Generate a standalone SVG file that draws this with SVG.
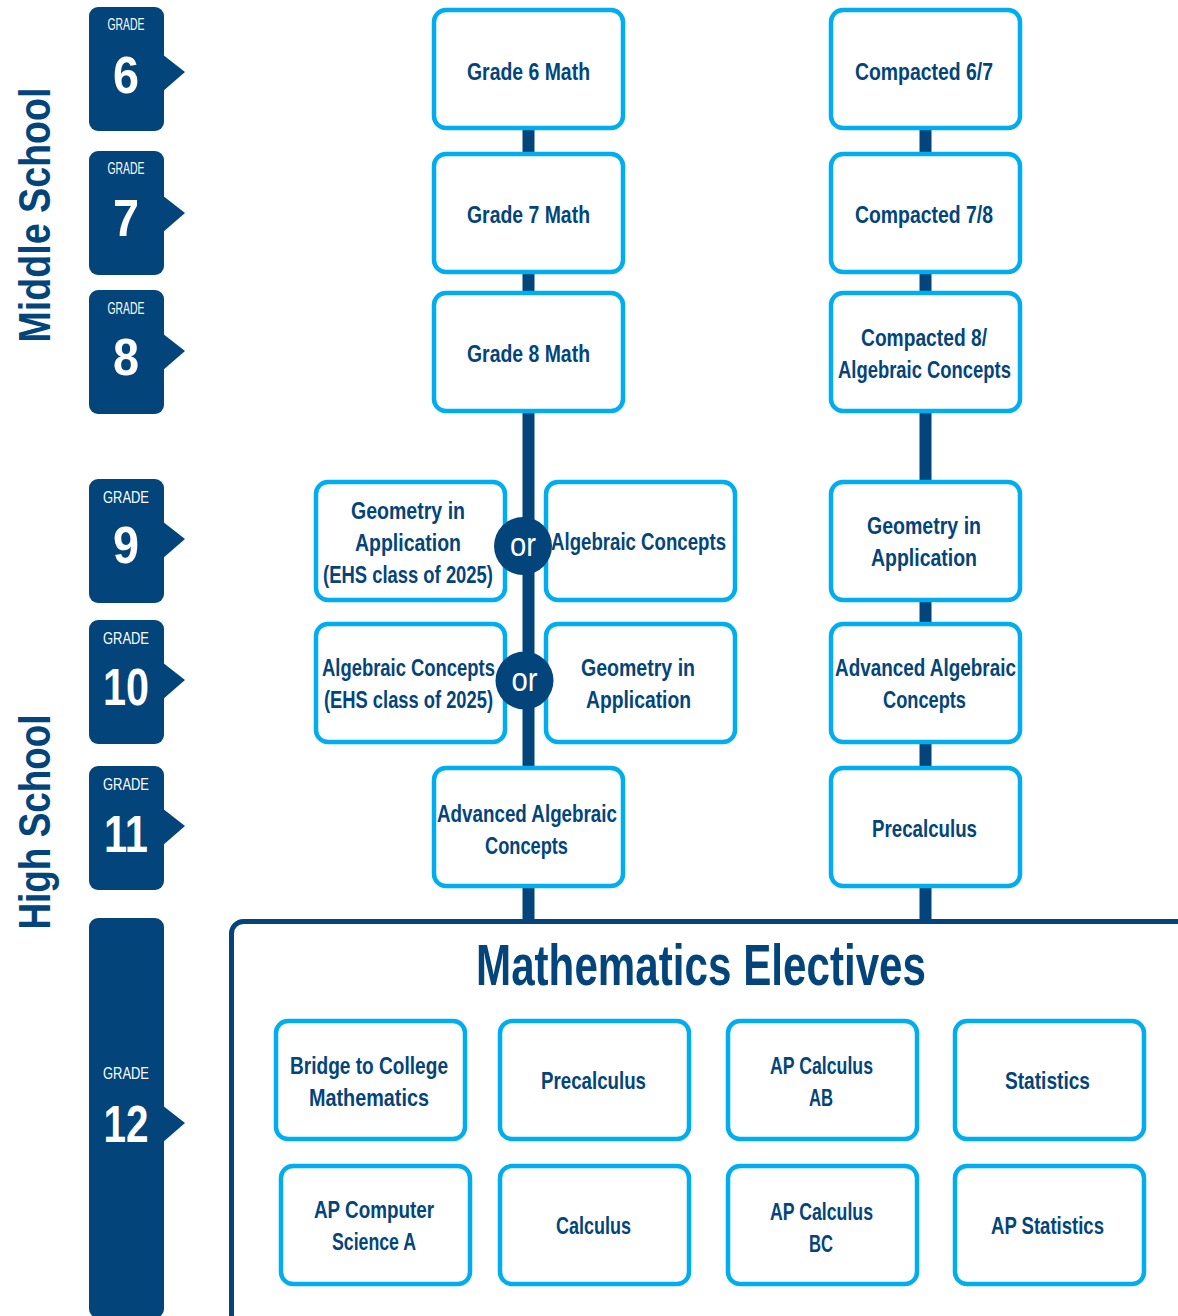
<svg xmlns="http://www.w3.org/2000/svg" width="1178" height="1316" viewBox="0 0 1178 1316">
<style>
.tab{fill:#03457b}
.gl{font-family:"Liberation Sans",Arial,sans-serif;font-size:17px;fill:#fff;text-anchor:middle}
.gn{font-family:"Liberation Sans",Arial,sans-serif;font-size:52px;font-weight:bold;fill:#fff;text-anchor:middle}
.box{fill:#fff;stroke:#00aeef;stroke-width:4.5}
.t{font-family:"Liberation Sans",Arial,sans-serif;font-size:24px;font-weight:bold;fill:#03457b;text-anchor:middle}
.side{font-family:"Liberation Sans",Arial,sans-serif;font-size:44px;font-weight:bold;fill:#03457b;text-anchor:middle}
.or{fill:#03457b}
.ort{font-family:"Liberation Sans",Arial,sans-serif;font-size:34px;fill:#fff;text-anchor:middle}
.ln{stroke:#03457b;stroke-width:12;fill:none}
</style>
<rect width="1178" height="1316" fill="#fff"/>

<g id="side-labels">
<text class="side" transform="translate(50,215) rotate(-90)" textLength="255" lengthAdjust="spacingAndGlyphs">Middle School</text>
<text class="side" transform="translate(50,822) rotate(-90)" textLength="215" lengthAdjust="spacingAndGlyphs">High School</text>
</g>

<g id="grade6"><rect class="tab" x="89" y="7" width="75" height="124" rx="9"/><polygon class="tab" points="162,54 185,72 162,92"/><text class="gl" x="126" y="30" textLength="37" lengthAdjust="spacingAndGlyphs">GRADE</text><text class="gn" x="126" y="93" textLength="26" lengthAdjust="spacingAndGlyphs">6</text></g>
<g id="grade7"><rect class="tab" x="89" y="151" width="75" height="124" rx="9"/><polygon class="tab" points="162,195 185,213 162,233"/><text class="gl" x="126" y="174" textLength="37" lengthAdjust="spacingAndGlyphs">GRADE</text><text class="gn" x="126" y="236" textLength="26" lengthAdjust="spacingAndGlyphs">7</text></g>
<g id="grade8"><rect class="tab" x="89" y="290" width="75" height="124" rx="9"/><polygon class="tab" points="162,333 185,351 162,371"/><text class="gl" x="126" y="314" textLength="37" lengthAdjust="spacingAndGlyphs">GRADE</text><text class="gn" x="126" y="375" textLength="26" lengthAdjust="spacingAndGlyphs">8</text></g>
<g id="grade9"><rect class="tab" x="89" y="479" width="75" height="124" rx="9"/><polygon class="tab" points="162,521 185,539 162,559"/><text class="gl" x="126" y="503" textLength="46" lengthAdjust="spacingAndGlyphs">GRADE</text><text class="gn" x="126" y="563" textLength="26" lengthAdjust="spacingAndGlyphs">9</text></g>
<g id="grade10"><rect class="tab" x="89" y="620" width="75" height="124" rx="9"/><polygon class="tab" points="162,662 185,680 162,700"/><text class="gl" x="126" y="644" textLength="46" lengthAdjust="spacingAndGlyphs">GRADE</text><text class="gn" x="126" y="705" textLength="46" lengthAdjust="spacingAndGlyphs">10</text></g>
<g id="grade11"><rect class="tab" x="89" y="766" width="75" height="124" rx="9"/><polygon class="tab" points="162,808 185,826 162,846"/><text class="gl" x="126" y="790" textLength="46" lengthAdjust="spacingAndGlyphs">GRADE</text><text class="gn" x="126" y="852" textLength="44" lengthAdjust="spacingAndGlyphs">11</text></g>
<g id="grade12"><rect class="tab" x="89" y="918" width="75" height="400" rx="9"/><polygon class="tab" points="162,1105 185,1123 162,1143"/><text class="gl" x="126" y="1079" textLength="46" lengthAdjust="spacingAndGlyphs">GRADE</text><text class="gn" x="126" y="1142" textLength="45" lengthAdjust="spacingAndGlyphs">12</text></g>

<g id="connectors">
<line class="ln" x1="528.5" y1="125" x2="528.5" y2="922"/>
<line class="ln" x1="925.5" y1="125" x2="925.5" y2="922"/>
</g>

<g id="electives">
<rect x="231.5" y="921.5" width="960" height="410" rx="12" fill="#fff" stroke="#03457b" stroke-width="5"/>
<text class="t" x="701" y="985" style="font-size:58px" textLength="450" lengthAdjust="spacingAndGlyphs">Mathematics Electives</text>
</g>

<g id="g6math"><rect class="box" x="434" y="10" width="189" height="118" rx="12"/><text class="t" x="528.5" y="80" textLength="123" lengthAdjust="spacingAndGlyphs">Grade 6 Math</text></g>
<g id="g7math"><rect class="box" x="434" y="154" width="189" height="118" rx="12"/><text class="t" x="528.5" y="223" textLength="123" lengthAdjust="spacingAndGlyphs">Grade 7 Math</text></g>
<g id="g8math"><rect class="box" x="434" y="293" width="189" height="118" rx="12"/><text class="t" x="528.5" y="362" textLength="123" lengthAdjust="spacingAndGlyphs">Grade 8 Math</text></g>

<g id="comp67"><rect class="box" x="831" y="10" width="189" height="118" rx="12"/><text class="t" x="924" y="80" textLength="138" lengthAdjust="spacingAndGlyphs">Compacted 6/7</text></g>
<g id="comp78"><rect class="box" x="831" y="154" width="189" height="118" rx="12"/><text class="t" x="924" y="223" textLength="138" lengthAdjust="spacingAndGlyphs">Compacted 7/8</text></g>
<g id="comp8"><rect class="box" x="831" y="293" width="189" height="118" rx="12"/><text class="t" x="924" y="346" textLength="126" lengthAdjust="spacingAndGlyphs">Compacted 8/</text><text class="t" x="924.5" y="378" textLength="173" lengthAdjust="spacingAndGlyphs">Algebraic Concepts</text></g>

<g id="g9geo"><rect class="box" x="316" y="482" width="189" height="118" rx="12"/><text class="t" x="408" y="519" textLength="114" lengthAdjust="spacingAndGlyphs">Geometry in</text><text class="t" x="408" y="551" textLength="106" lengthAdjust="spacingAndGlyphs">Application</text><text class="t" x="408" y="583" textLength="170" lengthAdjust="spacingAndGlyphs">(EHS class of 2025)</text></g>
<g id="g9alg"><rect class="box" x="546" y="482" width="189" height="118" rx="12"/><text class="t" x="638.5" y="550" textLength="175" lengthAdjust="spacingAndGlyphs">Algebraic Concepts</text></g>
<g id="or9"><circle class="or" cx="523" cy="546" r="29"/><text class="ort" x="523" y="556" textLength="26" lengthAdjust="spacingAndGlyphs">or</text></g>
<g id="c9geo"><rect class="box" x="831" y="482" width="189" height="118" rx="12"/><text class="t" x="924" y="534" textLength="114" lengthAdjust="spacingAndGlyphs">Geometry in</text><text class="t" x="924" y="566" textLength="106" lengthAdjust="spacingAndGlyphs">Application</text></g>

<g id="g10alg"><rect class="box" x="316" y="624" width="189" height="118" rx="12"/><text class="t" x="408.5" y="676" textLength="173" lengthAdjust="spacingAndGlyphs">Algebraic Concepts</text><text class="t" x="408.5" y="708" textLength="169" lengthAdjust="spacingAndGlyphs">(EHS class of 2025)</text></g>
<g id="g10geo"><rect class="box" x="546" y="624" width="189" height="118" rx="12"/><text class="t" x="638" y="676" textLength="114" lengthAdjust="spacingAndGlyphs">Geometry in</text><text class="t" x="638.5" y="708" textLength="105" lengthAdjust="spacingAndGlyphs">Application</text></g>
<g id="or10"><circle class="or" cx="524.5" cy="680.5" r="29"/><text class="ort" x="524.5" y="691" textLength="26" lengthAdjust="spacingAndGlyphs">or</text></g>
<g id="c10adv"><rect class="box" x="831" y="624" width="189" height="118" rx="12"/><text class="t" x="925.5" y="676" textLength="181" lengthAdjust="spacingAndGlyphs">Advanced Algebraic</text><text class="t" x="924.5" y="708" textLength="83" lengthAdjust="spacingAndGlyphs">Concepts</text></g>

<g id="g11adv"><rect class="box" x="434" y="768" width="189" height="118" rx="12"/><text class="t" x="527" y="822" textLength="180" lengthAdjust="spacingAndGlyphs">Advanced Algebraic</text><text class="t" x="526.5" y="854" textLength="83" lengthAdjust="spacingAndGlyphs">Concepts</text></g>
<g id="c11pre"><rect class="box" x="831" y="768" width="189" height="118" rx="12"/><text class="t" x="924.5" y="837" textLength="105" lengthAdjust="spacingAndGlyphs">Precalculus</text></g>

<g id="e-bridge"><rect class="box" x="276" y="1021" width="189" height="118" rx="12"/><text class="t" x="369" y="1074" textLength="158" lengthAdjust="spacingAndGlyphs">Bridge to College</text><text class="t" x="369" y="1106" textLength="120" lengthAdjust="spacingAndGlyphs">Mathematics</text></g>
<g id="e-precalc"><rect class="box" x="500" y="1021" width="189" height="118" rx="12"/><text class="t" x="593.5" y="1089" textLength="105" lengthAdjust="spacingAndGlyphs">Precalculus</text></g>
<g id="e-apab"><rect class="box" x="728" y="1021" width="189" height="118" rx="12"/><text class="t" x="821.5" y="1074" textLength="103" lengthAdjust="spacingAndGlyphs">AP Calculus</text><text class="t" x="821" y="1106" textLength="24" lengthAdjust="spacingAndGlyphs">AB</text></g>
<g id="e-stats"><rect class="box" x="955" y="1021" width="189" height="118" rx="12"/><text class="t" x="1047.5" y="1089" textLength="85" lengthAdjust="spacingAndGlyphs">Statistics</text></g>

<g id="e-apcs"><rect class="box" x="281" y="1166" width="189" height="118" rx="12"/><text class="t" x="374" y="1218" textLength="120" lengthAdjust="spacingAndGlyphs">AP Computer</text><text class="t" x="374" y="1250" textLength="84" lengthAdjust="spacingAndGlyphs">Science A</text></g>
<g id="e-calc"><rect class="box" x="500" y="1166" width="189" height="118" rx="12"/><text class="t" x="593.5" y="1234" textLength="75" lengthAdjust="spacingAndGlyphs">Calculus</text></g>
<g id="e-apbc"><rect class="box" x="728" y="1166" width="189" height="118" rx="12"/><text class="t" x="821.5" y="1220" textLength="103" lengthAdjust="spacingAndGlyphs">AP Calculus</text><text class="t" x="821" y="1252" textLength="24" lengthAdjust="spacingAndGlyphs">BC</text></g>
<g id="e-apstats"><rect class="box" x="955" y="1166" width="189" height="118" rx="12"/><text class="t" x="1047.5" y="1234" textLength="113" lengthAdjust="spacingAndGlyphs">AP Statistics</text></g>
</svg>
